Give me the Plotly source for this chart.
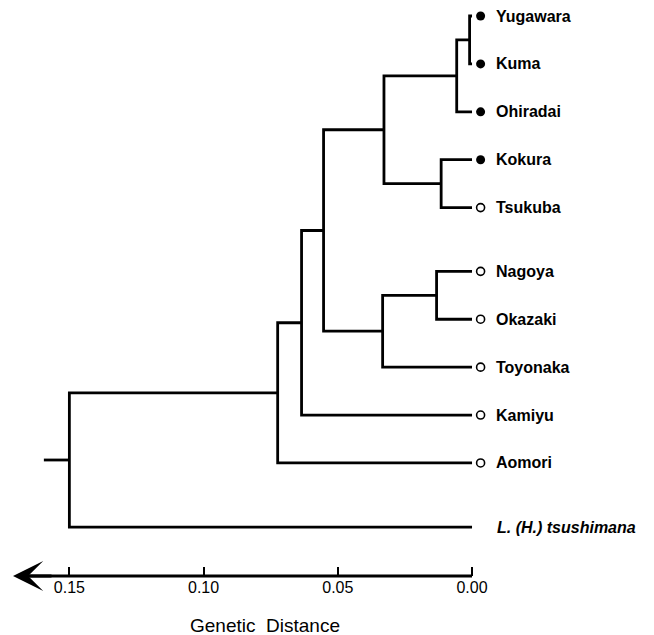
import plotly.graph_objects as go

# ---- data ----
leaf_names = ["Yugawara", "Kuma", "Ohiradai", "Kokura", "Tsukuba", "Nagoya",
              "Okazaki", "Toyonaka", "Kamiyu", "Aomori", "L. (H.) tsushimana"]
leaf_pos = [0, 1, 2, 3, 4, 5.33, 6.33, 7.33, 8.33, 9.33, 10.67]
leaf_marker = ["filled", "filled", "filled", "filled", "open", "open",
               "open", "open", "open", "open", "none"]
# merges: (child a, child b, genetic distance); new node ids start at 11
merges = [
    (0, 1, 0.0009),
    (11, 2, 0.0057),
    (3, 4, 0.0115),
    (12, 13, 0.0328),
    (5, 6, 0.0132),
    (15, 7, 0.0333),
    (14, 16, 0.0553),
    (17, 8, 0.0635),
    (18, 9, 0.0724),
    (19, 10, 0.1500),
]
root_stub = 0.1595
tick_vals = [0.15, 0.10, 0.05, 0.00]
tick_text = ["0.15", "0.10", "0.05", "0.00"]

# ---- style ----
FONT = "Liberation Sans, Arial, Helvetica, sans-serif"
LW = 2.8
MARKER_GAP = 0.0032
X_MAX = 0.171
X_MIN = -0.0067  # extra room on the right so the leaf markers are inside the plot

# ---- build dendrogram ----
nx = {i: 0.0 for i in range(len(leaf_names))}
ny = {i: leaf_pos[i] for i in range(len(leaf_names))}
xs, ys = [], []
nid = len(leaf_names)
for a, b, h in merges:
    xs += [nx[a], h, h, nx[b], None]
    ys += [ny[a], ny[a], ny[b], ny[b], None]
    nx[nid] = h
    ny[nid] = (ny[a] + ny[b]) / 2
    nid += 1
root = nid - 1
xs += [nx[root], root_stub, None]
ys += [ny[root], ny[root], None]

fig = go.Figure()
fig.add_trace(go.Scatter(x=xs, y=ys, mode="lines",
                         line=dict(color="black", width=LW),
                         hoverinfo="skip", showlegend=False))

fx = [-MARKER_GAP for i, m in enumerate(leaf_marker) if m == "filled"]
fy = [leaf_pos[i] for i, m in enumerate(leaf_marker) if m == "filled"]
ox = [-MARKER_GAP for i, m in enumerate(leaf_marker) if m == "open"]
oy = [leaf_pos[i] for i, m in enumerate(leaf_marker) if m == "open"]
fig.add_trace(go.Scatter(x=fx, y=fy, mode="markers", cliponaxis=False,
                         marker=dict(symbol="circle", size=9, color="black"),
                         showlegend=False, hoverinfo="skip"))
fig.add_trace(go.Scatter(x=ox, y=oy, mode="markers", cliponaxis=False,
                         marker=dict(symbol="circle-open", size=8, color="black",
                                     line=dict(width=1.6)),
                         showlegend=False, hoverinfo="skip"))

for i, name in enumerate(leaf_names):
    italic = leaf_marker[i] == "none"
    txt = f"<b><i>{name}</i></b>" if italic else f"<b>{name}</b>"
    fig.add_annotation(x=0, y=leaf_pos[i], xref="x", yref="y", text=txt,
                       showarrow=False, xanchor="left", yanchor="middle",
                       xshift=22 if not italic else 23,
                       font=dict(family=FONT, size=16, color="black"))

# axis title
fig.add_annotation(x=(265 - 13) / (654 - 13 - 163.5), y=-(625 - 576) / 576,
                   xref="paper", yref="paper",
                   text="Genetic\u00a0 Distance", showarrow=False,
                   xanchor="center", yanchor="middle",
                   font=dict(family=FONT, size=19, color="black"))

# axis line from the arrow tip to 0.00
fig.add_shape(type="line", xref="x", yref="paper", x0=X_MAX - 0.003, x1=0, y0=0, y1=0,
              line=dict(color="black", width=LW))
# arrow on the axis
fig.add_annotation(x=X_MAX, y=0, xref="x", yref="paper", ax=40, ay=0,
                   text="", showarrow=True, arrowhead=3, arrowsize=1.8,
                   arrowwidth=LW, arrowcolor="black", standoff=0)

fig.update_layout(
    width=654, height=635,
    margin=dict(l=13, r=163.5, t=0, b=59),
    paper_bgcolor="white", plot_bgcolor="white",
    xaxis=dict(range=[X_MAX, X_MIN], showgrid=False, zeroline=False,
               showline=False,
               ticks="inside", ticklen=9, tickwidth=2, tickcolor="black",
               tickvals=tick_vals, ticktext=tick_text,
               tickfont=dict(family=FONT, size=16, color="black")),
    yaxis=dict(range=[11.69, -0.334], showgrid=False, zeroline=False,
               showline=False, showticklabels=False, ticks=""),
    font=dict(family=FONT),
)

fig.write_html("out.html")
